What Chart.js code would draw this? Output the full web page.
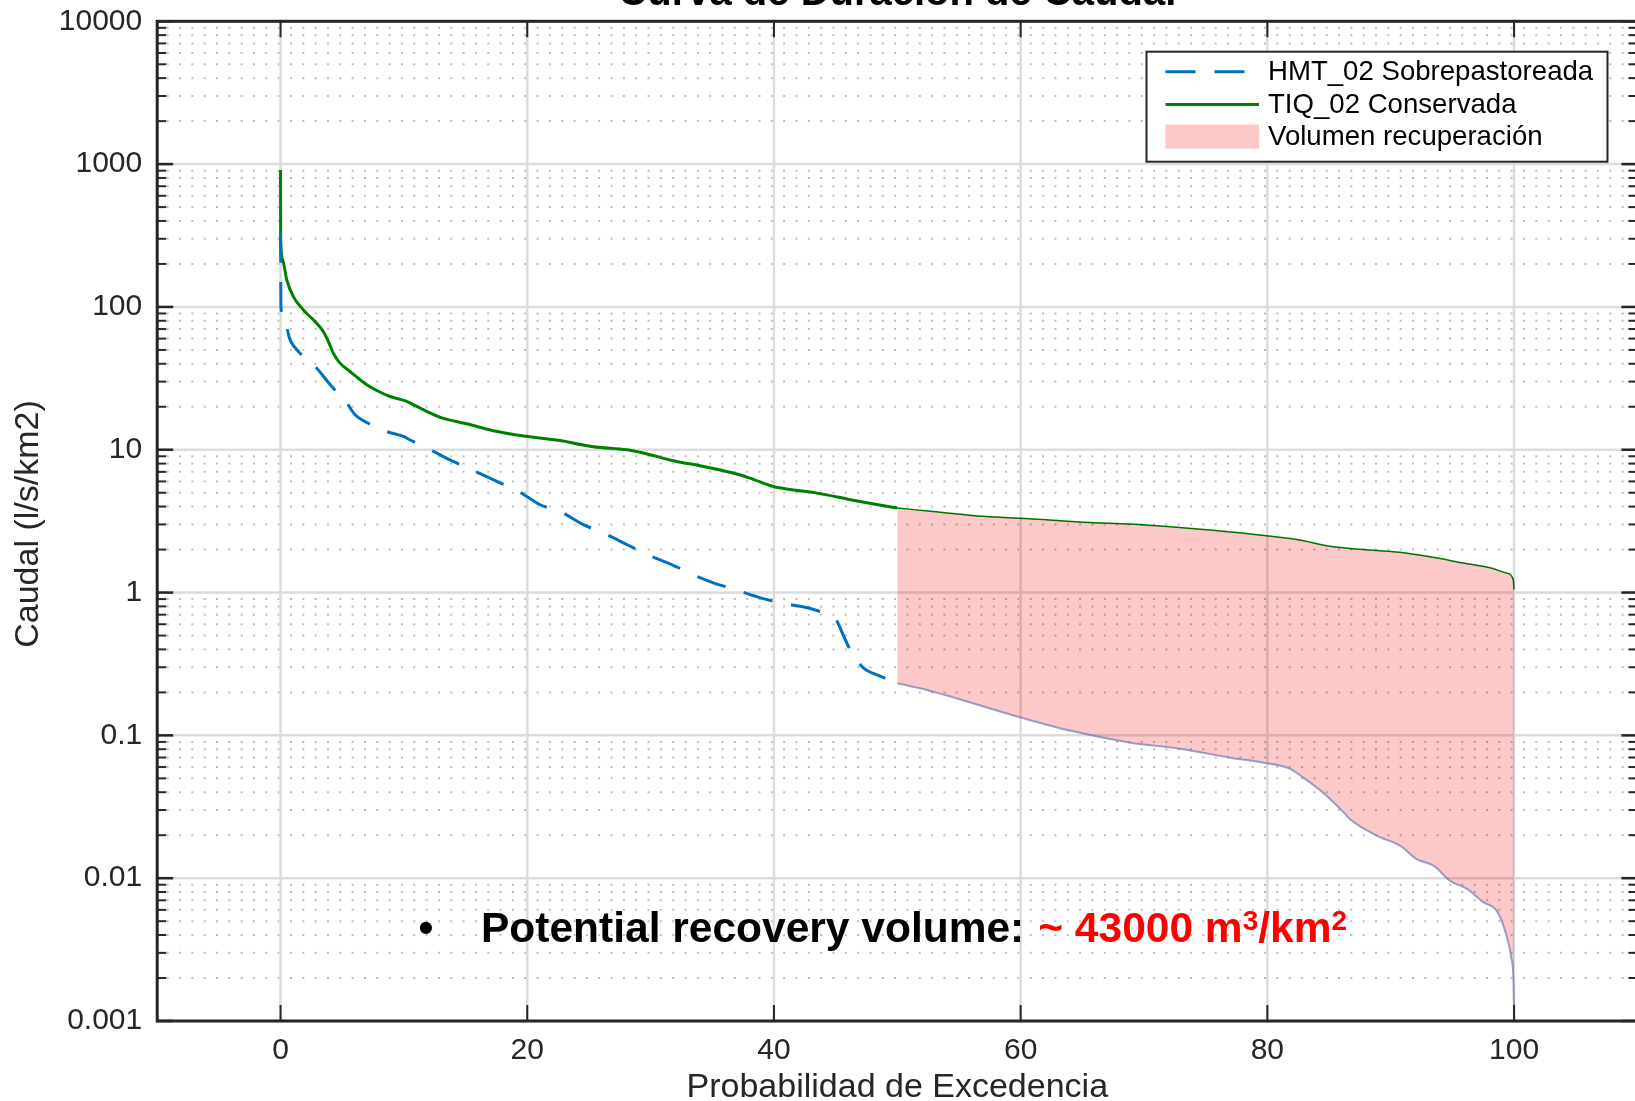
<!DOCTYPE html>
<html>
<head>
<meta charset="utf-8">
<title>Curva de Duración de Caudal</title>
<script src="https://cdn.jsdelivr.net/npm/chart.js@4.4.1/dist/chart.umd.min.js"></script>
<style>
  html, body { margin: 0; padding: 0; background: #fff; overflow: hidden; }
  #wrap { position: absolute; left: 0; top: 0; width: 1660px; height: 1101px; }
  canvas { display: block; }
</style>
</head>
<body>
<div id="wrap"><canvas id="fdc" width="1660" height="1101"></canvas></div>
<script>
// ---- data: flow duration curves (exceedance %, specific flow l/s/km2) ----
const hmtExceedance = [0, 0.01, 0.03, 0.36, 0.77, 1.45, 2.8, 4.15, 5.37, 6.04, 6.99, 8.61, 9.96, 10.6,
  12.39, 14.0, 15.63, 17.66, 19.15, 19.96, 21.04, 22.66, 24.55, 26.17, 28.07, 29.69, 31.7, 34.0, 35.2,
  36.7, 38.9, 40.8, 42.7, 44.3, 45.1, 45.6, 46.3, 47.25, 48.5, 50, 52, 54, 56.4, 60.2, 64, 68.9, 72.9,
  77.0, 79.7, 81.8, 83.0, 84.5, 86.2, 86.7, 88.9, 90.8, 92.1, 93.5, 94.8, 96.2, 97.5, 98.6, 99.3, 99.8,
  99.95, 100];
const hmtFlow = [330, 225, 100, 76.9, 58.8, 48.7, 38.3, 27.7, 21.2, 17.6, 15.5, 13.4, 12.4, 11.6,
  9.73, 8.28, 7.16, 5.94, 5.19, 4.71, 4.12, 3.70, 2.99, 2.61, 2.17, 1.85, 1.57, 1.27, 1.16,
  1.06, 0.918, 0.838, 0.782, 0.702, 0.630, 0.508, 0.378, 0.297, 0.262, 0.232, 0.212, 0.19, 0.165, 0.132, 0.108, 0.0889, 0.0807,
  0.0698, 0.0644, 0.0585, 0.050, 0.0398, 0.0288, 0.0259, 0.0198, 0.0168, 0.0136, 0.0122, 0.0096, 0.0084, 0.0068, 0.0059, 0.0042, 0.0027,
  0.00197, 0.00121];

const tiqExceedance = [0, 0.005, 0.02, 0.18, 0.5, 1.04, 1.85, 2.8, 3.47, 3.88, 4.28, 4.82, 5.63, 6.45,
  6.99, 7.8, 8.88, 10.23, 11.04, 12.12, 13.07, 15.1, 17.25, 19.42, 22.66, 25.36, 28.07, 29.4, 32.1,
  34.0, 36.7, 38.05, 39.95, 41.6, 43.5, 46.2, 48.1, 50, 52.9, 57.0, 61.0, 65.6, 68.9, 72.4, 75.6,
  79.95, 82.4, 85.1, 87.8, 90.5, 93.2, 95.9, 98.05, 99.4, 99.94, 100];
const tiqFlow = [908, 428, 279, 213, 155, 118, 95.3, 78.9, 67.2, 57.2, 47.4, 40.4, 35.3, 30.9,
  28.5, 26.0, 23.6, 21.8, 20.1, 18.1, 16.7, 15.2, 13.6, 12.6, 11.6, 10.5, 10.0, 9.5, 8.28,
  7.73, 6.87, 6.33, 5.53, 5.23, 4.97, 4.47, 4.17, 3.91, 3.70, 3.42, 3.28, 3.10, 3.02, 2.88, 2.73,
  2.50, 2.35, 2.11, 2.00, 1.92, 1.78, 1.61, 1.49, 1.37, 1.23, 1.05];

// exceedance where the shaded recovery band begins
const recoveryStart = 50;

// axes
const xTicks = [0, 20, 40, 60, 80, 100];
const yTicks = [0.001, 0.01, 0.1, 1, 10, 100, 1000, 10000];
const yTickLabels = ['0.001', '0.01', '0.1', '1', '10', '100', '1000', '10000'];

// texts
const seriesNames = ['HMT_02 Sobrepastoreada', 'TIQ_02 Conservada', 'Volumen recuperación'];
const chartTitle = 'Curva de Duración de Caudal';
const xTitle = 'Probabilidad de Excedencia';
const yTitle = 'Caudal (l/s/km2)';
const noteLead = 'Potential recovery volume:';
const noteValue = ['~ 43000 m', '3', '/km', '2'];

// ---- styling ----
const FONT = '"Liberation Sans", Arial, Helvetica, sans-serif';
const AXIS = '#262626';
const BLUE = '#0072BD';
const GREEN = '#008000';
const PINK = 'rgb(253,200,200)';

function points(xs, ys, keep) {
  return xs.map((x, i) => ({ x: x, y: ys[i] })).filter(p => keep(p.x));
}

const minorValues = [];
for (let e = -3; e < 4; e++) {
  for (let k = 2; k <= 9; k++) minorValues.push(k * Math.pow(10, e));
}

const frame = {
  id: 'frame',
  beforeDatasetsDraw(chart) {
    const { ctx, chartArea: a, scales: { x, y } } = chart;
    ctx.save();
    // minor dotted grid (y only)
    ctx.strokeStyle = '#bdbdbd';
    ctx.lineWidth = 2;
    ctx.setLineDash([2, 10.33]);
    ctx.lineDashOffset = 2.86;
    minorValues.forEach(v => {
      const py = y.getPixelForValue(v);
      ctx.beginPath(); ctx.moveTo(a.left, py); ctx.lineTo(a.right, py); ctx.stroke();
    });
    ctx.setLineDash([]);
    // major grid
    ctx.strokeStyle = '#dcdcdc';
    ctx.lineWidth = 2.5;
    yTicks.forEach(v => {
      const py = y.getPixelForValue(v);
      ctx.beginPath(); ctx.moveTo(a.left, py); ctx.lineTo(a.right, py); ctx.stroke();
    });
    xTicks.forEach(v => {
      const px = x.getPixelForValue(v);
      ctx.beginPath(); ctx.moveTo(px, a.top); ctx.lineTo(px, a.bottom); ctx.stroke();
    });
    ctx.restore();
    // the recovery band is blended so the grid shows through it
    ctx.globalCompositeOperation = 'multiply';
  },
  afterDatasetDraw(chart, args) {
    if (args.index === 2) chart.ctx.globalCompositeOperation = 'source-over';
  },
  afterDatasetsDraw(chart) {
    const { ctx, chartArea: a, scales: { x, y } } = chart;
    ctx.save();
    ctx.globalCompositeOperation = 'source-over';
    ctx.strokeStyle = AXIS;
    // y ticks on left and right sides, pointing inward
    ctx.lineWidth = 2;
    minorValues.forEach(v => {
      const py = y.getPixelForValue(v);
      ctx.beginPath(); ctx.moveTo(a.left, py); ctx.lineTo(a.left + 9, py); ctx.stroke();
      ctx.beginPath(); ctx.moveTo(a.right, py); ctx.lineTo(a.right - 9, py); ctx.stroke();
    });
    ctx.lineWidth = 2.5;
    yTicks.forEach(v => {
      const py = y.getPixelForValue(v);
      ctx.beginPath(); ctx.moveTo(a.left, py); ctx.lineTo(a.left + 16, py); ctx.stroke();
      ctx.beginPath(); ctx.moveTo(a.right, py); ctx.lineTo(a.right - 16, py); ctx.stroke();
    });
    // x ticks on top and bottom
    ctx.lineWidth = 2;
    xTicks.forEach(v => {
      const px = x.getPixelForValue(v);
      ctx.beginPath(); ctx.moveTo(px, a.top); ctx.lineTo(px, a.top + 16); ctx.stroke();
      ctx.beginPath(); ctx.moveTo(px, a.bottom); ctx.lineTo(px, a.bottom - 16); ctx.stroke();
    });
    // box
    ctx.lineWidth = 3;
    ctx.strokeRect(a.left, a.top, a.right - a.left, a.bottom - a.top);
    ctx.restore();
  },
  afterDraw(chart) {
    const { ctx, chartArea: a } = chart;
    const cx = (a.left + a.right) / 2;
    ctx.save();
    ctx.fillStyle = AXIS;
    // axis titles
    ctx.font = '34px ' + FONT;
    ctx.textAlign = 'center';
    ctx.textBaseline = 'alphabetic';
    ctx.fillText(xTitle, cx, 1097);
    ctx.save();
    ctx.translate(28.5, 524);
    ctx.rotate(-Math.PI / 2);
    ctx.textBaseline = 'middle';
    ctx.fillText(yTitle, 0, 0);
    ctx.restore();
    // title
    ctx.fillStyle = '#000';
    ctx.font = 'bold 40px ' + FONT;
    ctx.textBaseline = 'alphabetic';
    ctx.fillText(chartTitle, cx, 5);

    // legend
    const L = { x: 1146.5, y: 51.7, w: 461, h: 110 };
    ctx.fillStyle = '#fff';
    ctx.fillRect(L.x, L.y, L.w, L.h);
    ctx.strokeStyle = AXIS;
    ctx.lineWidth = 2;
    ctx.strokeRect(L.x, L.y, L.w, L.h);
    const sx0 = 1165.5, sx1 = 1259, tx = 1268;
    const rows = [71.7, 104.5, 136.5];
    ctx.lineWidth = 3;
    ctx.strokeStyle = BLUE;
    ctx.setLineDash([30, 19]);
    ctx.beginPath(); ctx.moveTo(sx0, rows[0]); ctx.lineTo(sx1, rows[0]); ctx.stroke();
    ctx.setLineDash([]);
    ctx.strokeStyle = GREEN;
    ctx.beginPath(); ctx.moveTo(sx0, rows[1]); ctx.lineTo(sx1, rows[1]); ctx.stroke();
    ctx.fillStyle = PINK;
    ctx.fillRect(sx0, rows[2] - 12, sx1 - sx0, 24);
    ctx.fillStyle = '#000';
    ctx.font = '27.6px ' + FONT;
    ctx.textAlign = 'left';
    ctx.textBaseline = 'middle';
    const ds = chart.data.datasets;
    [ds[0].label, ds[1].label, ds[2].label].forEach((t, i) => ctx.fillText(t, tx, rows[i] + 1));

    // recovery note
    const base = 941.7;
    ctx.textBaseline = 'alphabetic';
    ctx.font = 'bold 42.5px ' + FONT;
    ctx.textAlign = 'center';
    ctx.fillText('•', 426, base);
    ctx.textAlign = 'left';
    let px = 481;
    ctx.fillText(noteLead, px, base);
    px += ctx.measureText(noteLead).width + 14;
    ctx.fillStyle = '#ff0000';
    noteValue.forEach((t, i) => {
      const sup = i % 2 === 1;
      ctx.font = (sup ? 'bold 28px ' : 'bold 42.5px ') + FONT;
      ctx.fillText(t, px, sup ? base - 12 : base);
      px += ctx.measureText(t).width;
    });
    ctx.restore();
  }
};

function build() {
  new Chart(document.getElementById('fdc'), {
    type: 'line',
    data: {
      datasets: [
        { label: seriesNames[0], data: points(hmtExceedance, hmtFlow, v => v <= recoveryStart),
          borderColor: BLUE, borderWidth: 3, borderDash: [30, 19], fill: false, order: 0 },
        { label: seriesNames[1], data: points(tiqExceedance, tiqFlow, v => v <= recoveryStart),
          borderColor: GREEN, borderWidth: 3, fill: false, order: 1 },
        { label: seriesNames[2], data: points(tiqExceedance, tiqFlow, v => v >= recoveryStart),
          borderColor: GREEN, borderWidth: 1.5, backgroundColor: PINK, fill: '+1', order: 3 },
        { label: seriesNames[0], data: points(hmtExceedance, hmtFlow, v => v >= recoveryStart),
          borderColor: 'rgba(90,105,175,0.6)', borderWidth: 2, fill: false, order: 2 }
      ]
    },
    options: {
      responsive: false,
      animation: false,
      devicePixelRatio: 1,
      layout: { padding: { top: 21.3, left: 0, right: 22.6, bottom: 0 } },
      elements: {
        point: { radius: 0, hoverRadius: 0 },
        line: { cubicInterpolationMode: 'monotone', borderJoinStyle: 'round', borderCapStyle: 'butt' }
      },
      plugins: { legend: { display: false }, tooltip: { enabled: false }, title: { display: false } },
      scales: {
        x: {
          type: 'linear', min: -10, max: 110,
          grid: { display: false }, border: { display: false },
          afterBuildTicks: s => { s.ticks = xTicks.map(v => ({ value: v })); },
          afterFit: s => { s.height = 80; },
          ticks: { font: { family: FONT, size: 30 }, color: AXIS, padding: 4, maxRotation: 0,
                   autoSkip: false, callback: v => String(v) }
        },
        y: {
          type: 'logarithmic', min: 0.001, max: 10000,
          grid: { display: false }, border: { display: false },
          afterBuildTicks: s => { s.ticks = yTicks.map(v => ({ value: v })); },
          afterFit: s => { s.width = 157.2; },
          ticks: { font: { family: FONT, size: 30, lineHeight: 0.5 }, color: AXIS, padding: 7, autoSkip: false,
                   callback: (v, i) => yTickLabels[i] }
        }
      }
    },
    plugins: [frame]
  });
}

if (document.fonts && document.fonts.load) {
  Promise.all([
    document.fonts.load('30px "Liberation Sans"'),
    document.fonts.load('bold 42px "Liberation Sans"')
  ]).then(build, build);
} else {
  build();
}
</script>
</body>
</html>
